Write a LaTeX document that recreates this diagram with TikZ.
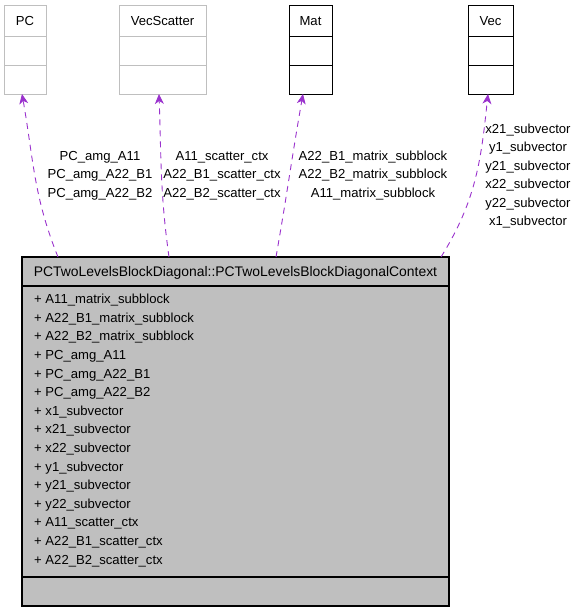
\documentclass[tikz,border=0pt]{standalone}
\usepackage{fontspec}
\setmainfont{Liberation Sans}
\usetikzlibrary{arrows.meta,positioning}
\definecolor{GraphPurple}{HTML}{9A32CD}
\definecolor{GraphGrey}{HTML}{BFBFBF}
\tikzset{
  classhdr/.style={
    draw,
    outer sep=0pt,
    inner sep=0pt,
    minimum height=31pt,
    text depth=0pt,
    font=\fontsize{13.1}{15}\selectfont
  },
  classcell/.style={draw,outer sep=0pt,inner sep=0pt,minimum height=29pt},
  greyclass/.style={draw=GraphGrey,line width=1pt,fill=white},
  blackclass/.style={draw=black,line width=1pt,fill=white},
  ctxclass/.style={draw=black,line width=1.2pt,fill=GraphGrey},
  member/.style={inner sep=0pt,anchor=base west,font=\fontsize{13.1}{15}\selectfont},
  edgelabel/.style={inner sep=0pt,align=center,font=\fontsize{13.1}{18.4}\selectfont},
  usage/.style={
    draw=GraphPurple,
    line width=0.9pt,
    dash pattern=on 6pt off 5pt,
    -{Stealth[length=10pt,width=9pt,inset=3pt]}
  }
}

\begin{document}
\begin{tikzpicture}[x=1pt,y=-1pt]
    \useasboundingbox (0,0) rectangle (577,613);

    % used classes
    \node[classhdr,greyclass,minimum width=42pt] (pc) at (25,20.5) {PC};
    \node[classcell,greyclass,minimum width=42pt,below=0pt of pc] (pc1) {};
    \node[classcell,greyclass,minimum width=42pt,below=0pt of pc1] (pc2) {};

    \node[classhdr,greyclass,minimum width=87pt] (scat) at (162.5,20.5) {VecScatter};
    \node[classcell,greyclass,minimum width=87pt,below=0pt of scat] (scat1) {};
    \node[classcell,greyclass,minimum width=87pt,below=0pt of scat1] (scat2) {};

    \node[classhdr,blackclass,minimum width=43pt] (mat) at (310.5,20.5) {Mat};
    \node[classcell,blackclass,minimum width=43pt,below=0pt of mat] (mat1) {};
    \node[classcell,blackclass,minimum width=43pt,below=0pt of mat1] (mat2) {};

    \node[classhdr,blackclass,minimum width=45pt] (vec) at (490.5,20.5) {Vec};
    \node[classcell,blackclass,minimum width=45pt,below=0pt of vec] (vec1) {};
    \node[classcell,blackclass,minimum width=45pt,below=0pt of vec1] (vec2) {};

    % context struct
    \node[classhdr,ctxclass,minimum width=427pt,minimum height=29pt,
      font=\fontsize{13.9}{15}\selectfont] (ctx) at (235.5,271.5)
      {PCTwoLevelsBlockDiagonal::PCTwoLevelsBlockDiagonalContext};
    \node[classcell,ctxclass,minimum width=427pt,minimum height=291pt,below=0pt of ctx] (ctxattr) {};
    \node[classcell,ctxclass,minimum width=427pt,below=0pt of ctxattr] (ctxops) {};

    \foreach \attr [count=\i from 0] in {A11\_matrix\_subblock,A22\_B1\_matrix\_subblock,
      A22\_B2\_matrix\_subblock,PC\_amg\_A11,PC\_amg\_A22\_B1,PC\_amg\_A22\_B2,
      x1\_subvector,x21\_subvector,x22\_subvector,y1\_subvector,y21\_subvector,
      y22\_subvector,A11\_scatter\_ctx,A22\_B1\_scatter\_ctx,A22\_B2\_scatter\_ctx}
      \node[member] (attr\i) at (34,{303.7+18.6*\i}) {+ \attr};

    % member labels
    \node[edgelabel] (pclbl) at (100,175.5) {PC\_amg\_A11\\PC\_amg\_A22\_B1\\PC\_amg\_A22\_B2};
    \node[edgelabel] (scatlbl) at (222,175.5) {A11\_scatter\_ctx\\A22\_B1\_scatter\_ctx\\A22\_B2\_scatter\_ctx};
    \node[edgelabel] (matlbl) at (373,175.5) {A22\_B1\_matrix\_subblock\\A22\_B2\_matrix\_subblock\\A11\_matrix\_subblock};
    \node[edgelabel] (veclbl) at (528,176) {x21\_subvector\\y1\_subvector\\y21\_subvector\\x22\_subvector\\y22\_subvector\\x1\_subvector};

    \draw[usage] ([xshift=-177.5pt]ctx.north) to[out=112,in=-80] ([xshift=-3pt]pc2.south);
    \draw[usage] ([xshift=-66.5pt]ctx.north) to[out=98,in=-88] ([xshift=-3.5pt]scat2.south);
    \draw[usage] ([xshift=40.5pt]ctx.north) to[out=80,in=-100] ([xshift=-7.5pt]mat2.south);
    \draw[usage] ([xshift=205.5pt]ctx.north) to[out=58,in=-96] ([xshift=-2.5pt]vec2.south);
  \end{tikzpicture}
\end{document}
